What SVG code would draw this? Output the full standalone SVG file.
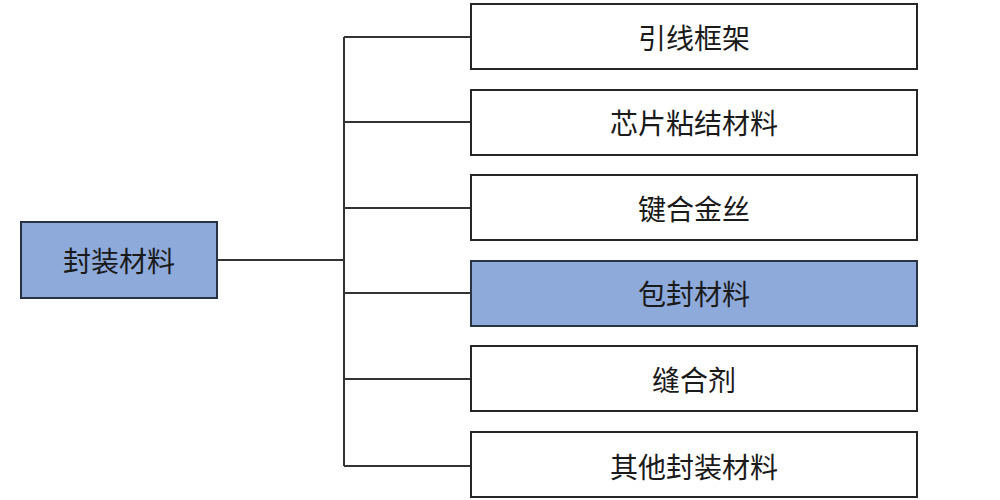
<svg xmlns="http://www.w3.org/2000/svg" width="1000" height="500" viewBox="0 0 1000 500">
<style>
.box{fill:#ffffff;stroke:#262626;stroke-width:2}
.hl{fill:#8eaadb;stroke:#2a3344;stroke-width:2}
.t{font-family:"Noto Sans CJK SC","Noto Sans",sans-serif;font-size:28px;fill:#1a1a1a;text-anchor:middle;dominant-baseline:central}
.c{stroke:#333333;stroke-width:2;fill:none}
</style>
<rect width="1000" height="500" fill="#ffffff"/>
<g id="connectors">
<line class="c" x1="217" y1="260" x2="344" y2="260"/>
<line class="c" x1="344" y1="37" x2="344" y2="466"/>
<line class="c" x1="344" y1="37" x2="471" y2="37"/>
<line class="c" x1="344" y1="122" x2="471" y2="122"/>
<line class="c" x1="344" y1="208" x2="471" y2="208"/>
<line class="c" x1="344" y1="293" x2="471" y2="293"/>
<line class="c" x1="344" y1="379" x2="471" y2="379"/>
<line class="c" x1="344" y1="466" x2="471" y2="466"/>
</g>
<g id="root"><rect class="hl" x="21" y="222" width="196" height="76"/><text class="t" x="119" y="260">封装材料</text></g>
<g id="n1"><rect class="box" x="471" y="4" width="446" height="65"/><text class="t" x="694" y="37">引线框架</text></g>
<g id="n2"><rect class="box" x="471" y="90" width="446" height="65"/><text class="t" x="694" y="122">芯片粘结材料</text></g>
<g id="n3"><rect class="box" x="471" y="175" width="446" height="65"/><text class="t" x="694" y="208">键合金丝</text></g>
<g id="n4"><rect class="hl" x="471" y="261" width="446" height="65"/><text class="t" x="694" y="293">包封材料</text></g>
<g id="n5"><rect class="box" x="471" y="346" width="446" height="65"/><text class="t" x="694" y="379">缝合剂</text></g>
<g id="n6"><rect class="box" x="471" y="432" width="446" height="65"/><text class="t" x="694" y="466">其他封装材料</text></g>
</svg>
